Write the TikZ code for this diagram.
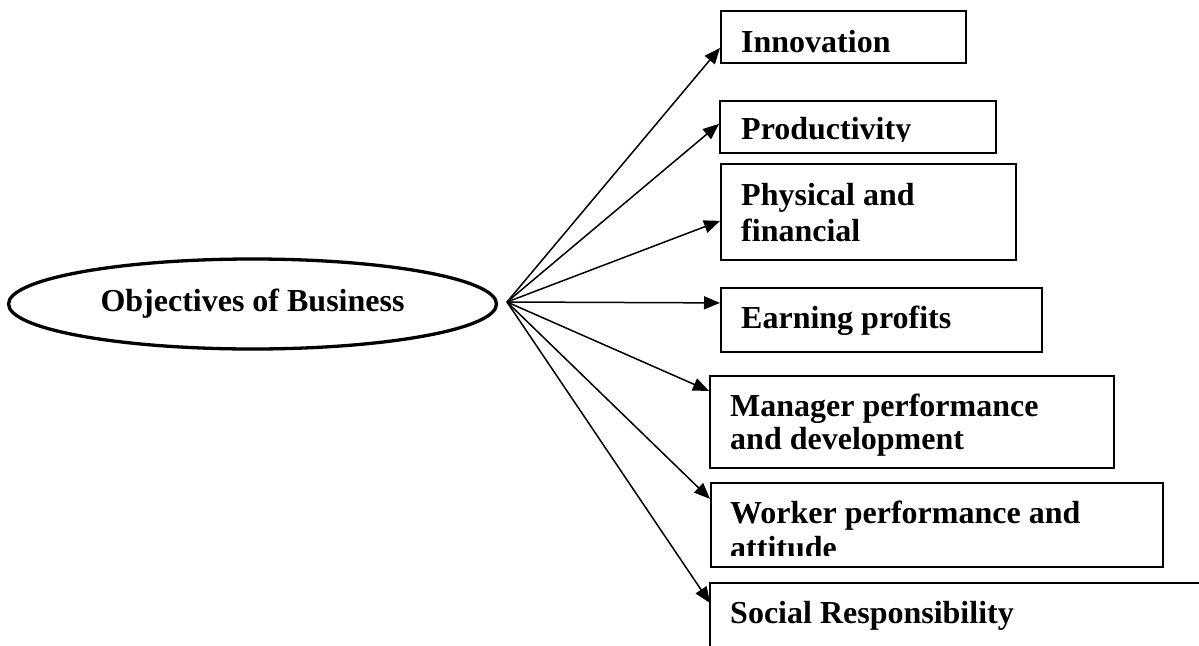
\documentclass[tikz,border=0pt]{standalone}
\usepackage{fontspec}
\setmainfont{Liberation Serif}
\usetikzlibrary{shapes.geometric,arrows.meta,calc}
\begin{document}
\begin{tikzpicture}[x=1pt,y=-1pt,
  box/.style={draw,line width=1.8pt,rectangle,inner sep=0pt,anchor=north west},
  lbl/.style={anchor=base west,inner sep=0pt,align=left,text width=480pt,
    font=\fontsize{32}{36}\selectfont\bfseries,
    execute at begin node={\spaceskip=0pt\xspaceskip=0pt\relax}},
  conn/.style={line width=1.5pt,-{Triangle[length=16pt,width=13pt]}}]
\useasboundingbox (0,0) rectangle (1199,645);
% central ellipse
\node[draw,ellipse,line width=3.3pt,minimum width=488pt,minimum height=90pt,inner sep=0pt,
  font=\fontsize{32}{36}\selectfont\bfseries] (obj) at (252.5,304) {Objectives of Business};
\coordinate (o) at (507,302);
% boxes
\node[box,minimum width=245pt,minimum height=52pt] (inn) at (720,10) {};
\node[box,minimum width=276pt,minimum height=52pt] (prod) at (719,100) {};
\node[box,minimum width=295pt,minimum height=96pt] (phys) at (720,163) {};
\node[box,minimum width=321pt,minimum height=64pt] (earn) at (720,287) {};
\node[box,minimum width=404pt,minimum height=92pt] (mgr) at (709,375) {};
\node[box,minimum width=452pt,minimum height=84pt] (wkr) at (710,482) {};
\coordinate (socbl) at (710,647);
\coordinate (soctl) at (710,583);
\coordinate (soctr) at (1201,583);
\draw[line width=1.8pt] (socbl) -- (soctl) -- (soctr);
\coordinate (soctip) at (710,603);
% labels
\node[lbl] (tinn) at (741,52) {Innovation};
\begin{scope}
  \clip (719,100) rectangle (995,141);
  \node[lbl] (tprod) at (741,139) {Productivity};
\end{scope}
\node[lbl] (tphys) at (741,205) {Physical and\\financial};
\node[lbl] (tearn) at (741,328) {Earning profits};
\node[lbl,font=\fontsize{32}{33}\selectfont\bfseries] (tmgr) at (730,416) {Manager performance\\and development};
\begin{scope}
  \clip (710,482) rectangle (1162,555);
  \node[lbl,font=\fontsize{32}{35}\selectfont\bfseries] (twkr) at (730,523) {Worker performance and\\attitude};
\end{scope}
\node[lbl] (tsoc) at (730,623) {Social Responsibility};
% connectors
\draw[conn] (o) -- ([yshift=-11pt]inn.west);
\draw[conn] (o) -- ([yshift=3pt]prod.west);
\draw[conn] (o) -- ([yshift=-9pt]phys.west);
\draw[conn] (o) -- ([yshift=17pt]earn.west);
\draw[conn] (o) -- ([yshift=31pt]mgr.west);
\draw[conn] (o) -- ([yshift=26pt]wkr.west);
\draw[conn] (o) -- (soctip);
\end{tikzpicture}
\end{document}
